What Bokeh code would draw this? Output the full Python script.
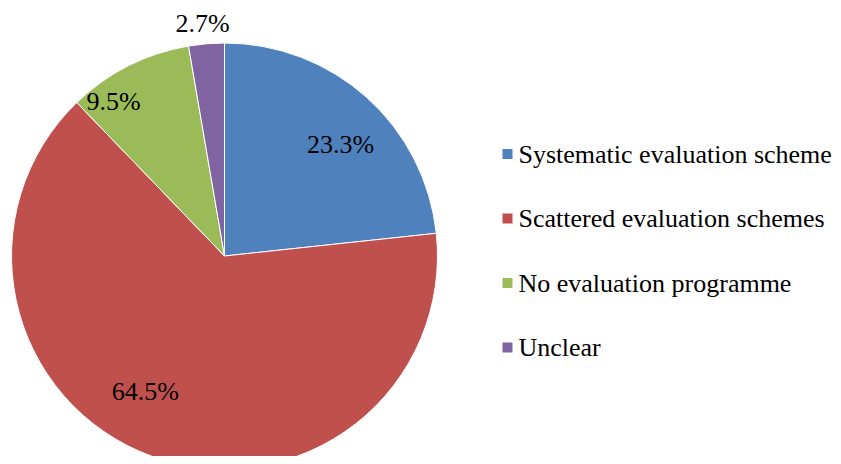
import numpy as np
from bokeh.plotting import figure
from bokeh.models import Range1d, ColumnDataSource
from bokeh.core.properties import value
from bokeh.embed import file_html
from bokeh.resources import INLINE

# ---- data ----
categories = ["Systematic evaluation scheme", "Scattered evaluation schemes",
              "No evaluation programme", "Unclear"]
shares = [23.3, 64.5, 9.5, 2.7]
labels = ["23.3%", "64.5%", "9.5%", "2.7%"]
colors = ["#4F81BD", "#C0504D", "#9BBB59", "#8064A2"]

# ---- layout (screen-pixel coordinates, y negated) ----
W, H = 833, 456
cx, cy, R = 224, -255.5, 213
label_r = [161, 157, 190, 234]
label_shift = [-4.2, -10.3, 8.9, 0.5]   # degrees
FONT = "Liberation Serif"

vals = np.array(shares, dtype=float)
frac = vals / vals.sum()
cum = np.concatenate([[0], np.cumsum(frac)])
start = np.radians(90 - cum[1:] * 360)
end = np.radians(90 - cum[:-1] * 360)
mid = (start + end) / 2

p = figure(width=W, height=H, output_backend="svg", toolbar_location=None,
           x_range=Range1d(0, W), y_range=Range1d(-H, 0),
           min_border=0)
p.axis.visible = False
p.grid.visible = False
p.outline_line_color = None
p.background_fill_color = "white"

src = ColumnDataSource(dict(start=start, end=end, color=colors))
p.wedge(x=cx, y=cy, radius=R, start_angle="start", end_angle="end",
        fill_color="color", line_color="white", line_width=1, source=src)

ang = mid + np.radians(label_shift)
lx = cx + np.array(label_r) * np.cos(ang)
ly = cy + np.array(label_r) * np.sin(ang)
p.text(x=lx, y=ly, text=labels, text_font=value(FONT), text_font_size="26px",
       text_align="center", text_baseline="middle", text_color="#000000")

# legend
leg_y = -(153.5 + np.arange(len(categories)) * 64.5)
p.rect(x=[507] * len(categories), y=leg_y, width=10, height=10,
       width_units="screen", height_units="screen",
       fill_color=colors, line_color=None)
p.text(x=[518] * len(categories), y=leg_y, text=categories, text_font=value(FONT),
       text_font_size="26px", text_align="left", text_baseline="middle",
       text_color="#000000")

open("out.html", "w").write(file_html(p, INLINE))
